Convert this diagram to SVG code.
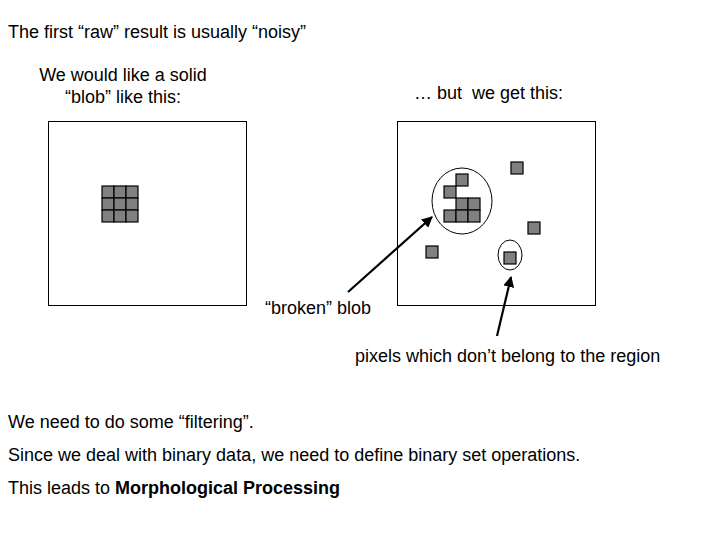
<svg xmlns="http://www.w3.org/2000/svg" width="720" height="540" viewBox="0 0 720 540">
<style>
text{font-family:"Liberation Sans",Arial,sans-serif;font-size:18px;fill:#000}
.frame{fill:#fff;stroke:#000;stroke-width:1}
.px{fill:#808080;stroke:#000;stroke-width:1.2}
.ring{fill:none;stroke:#000;stroke-width:1}
.arr{stroke:#000;stroke-width:2.2;fill:none;marker-end:url(#ah)}
</style>
<defs>
<marker id="ah" viewBox="0 0 10 10" refX="9" refY="5" markerWidth="5" markerHeight="5" orient="auto" markerUnits="strokeWidth">
<path d="M0,0 L10,5 L0,10 z" fill="#000"/>
</marker>
</defs>
<rect width="720" height="540" fill="#fff"/>
<text x="8" y="38">The first “raw” result is usually “noisy”</text>
<text x="123" y="81" text-anchor="middle">We would like a solid</text>
<text x="123" y="103" text-anchor="middle">“blob” like this:</text>
<text x="414" y="99" xml:space="preserve">… but  we get this:</text>

<g id="left-image">
<rect class="frame" x="48.5" y="121.5" width="198" height="184"/>
<g id="solid-blob">
<rect class="px" x="102" y="186" width="12" height="12"/>
<rect class="px" x="114" y="186" width="12" height="12"/>
<rect class="px" x="126" y="186" width="12" height="12"/>
<rect class="px" x="102" y="198" width="12" height="12"/>
<rect class="px" x="114" y="198" width="12" height="12"/>
<rect class="px" x="126" y="198" width="12" height="12"/>
<rect class="px" x="102" y="210" width="12" height="12"/>
<rect class="px" x="114" y="210" width="12" height="12"/>
<rect class="px" x="126" y="210" width="12" height="12"/>
</g>
</g>

<g id="right-image">
<rect class="frame" x="397.5" y="121.5" width="198" height="184"/>
<g id="broken-blob">
<ellipse class="ring" cx="462" cy="201" rx="30" ry="33"/>
<rect class="px" x="456" y="174" width="12" height="12"/>
<rect class="px" x="444" y="186" width="12" height="12"/>
<rect class="px" x="456" y="198" width="12" height="12"/>
<rect class="px" x="468" y="198" width="12" height="12"/>
<rect class="px" x="444" y="210" width="12" height="12"/>
<rect class="px" x="456" y="210" width="12" height="12"/>
<rect class="px" x="468" y="210" width="12" height="12"/>
</g>
<g id="noise">
<rect class="px" x="511" y="162" width="12" height="12"/>
<rect class="px" x="528" y="222" width="12" height="12"/>
<rect class="px" x="426" y="246" width="12" height="12"/>
<ellipse class="ring" cx="510" cy="255" rx="12" ry="15"/>
<rect class="px" x="504" y="252" width="12" height="12"/>
</g>
</g>

<g id="connectors">
<line class="arr" x1="348" y1="292" x2="432" y2="217"/>
<line class="arr" x1="497" y1="336" x2="511" y2="277"/>
</g>

<text x="265" y="314">“broken” blob</text>
<text x="355" y="362">pixels which don’t belong to the region</text>

<text x="8" y="428">We need to do some “filtering”.</text>
<text x="8" y="461">Since we deal with binary data, we need to define binary set operations.</text>
<text x="8" y="494">This leads to <tspan font-weight="bold">Morphological Processing</tspan></text>
</svg>
